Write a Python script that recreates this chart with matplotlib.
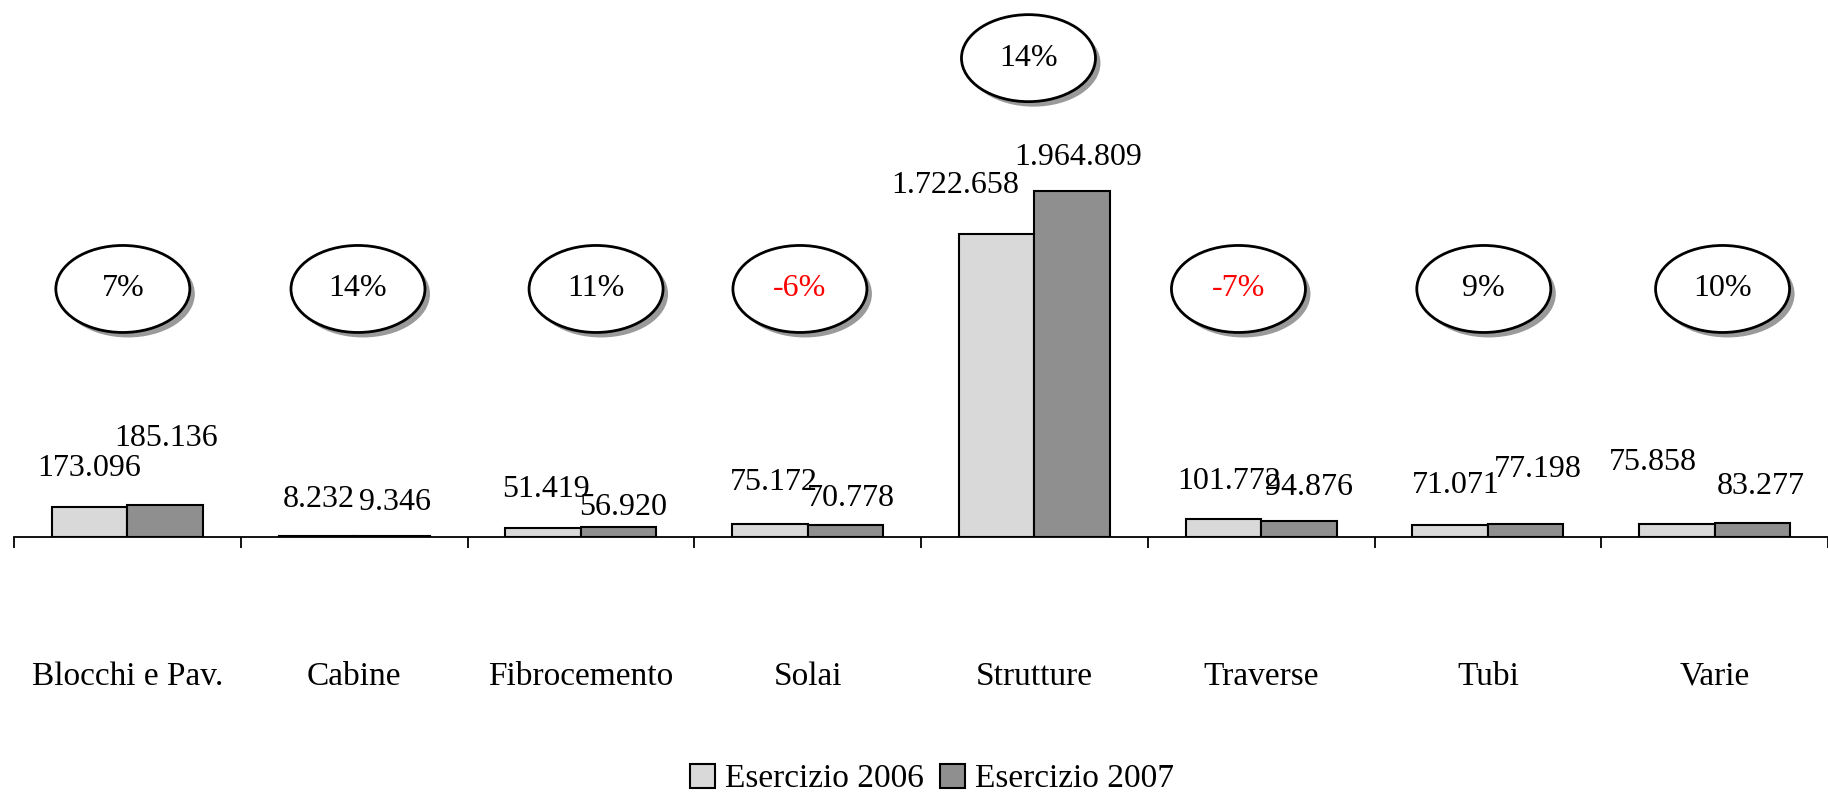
import matplotlib
matplotlib.use("Agg")
import matplotlib.pyplot as plt
from matplotlib.patches import Ellipse
from matplotlib.transforms import ScaledTranslation

plt.rcParams['font.family'] = ['Liberation Serif', 'DejaVu Serif']

categories = ['Blocchi e Pav.', 'Cabine', 'Fibrocemento', 'Solai',
              'Strutture', 'Traverse', 'Tubi', 'Varie']
es_2006 = [173096, 8232, 51419, 75172, 1722658, 101772, 71071, 75858]
es_2007 = [185136, 9346, 56920, 70778, 1964809, 94876, 77198, 83277]
growth = [7, 14, 11, -6, 14, -7, 9, 10]

# label offsets (points) from bar top, as in the original sheet
off_2006 = [(0, 28), (2, 26), (2, 28), (3, 30), (-30, 35), (4, 27), (4, 28), (-17, 44)]
off_2007 = [(1, 48), (2, 24), (3, 14), (4, 19), (4, 24), (7, 24), (9, 39), (6, 26)]
# ellipse placement: x shift (category units), centre height (data units)
ell_dx = [-0.02, 0.017, 0.067, -0.034, -0.026, -0.10, -0.018, 0.035]
ell_y = [1.41e6, 1.41e6, 1.41e6, 1.41e6, 2.72e6, 1.41e6, 1.41e6, 1.41e6]

c06 = '#d9d9d9'
c07 = '#8f8f8f'

W, H = 1828, 794
base = 537.4
fig = plt.figure(figsize=(W / 100, H / 100), dpi=100)
ax = fig.add_axes([14 / W, 1 - base / H, 1 - 14 / W, base / H])

x = list(range(len(categories)))
bw = 1 / 3
b1 = ax.bar([i - bw / 2 for i in x], es_2006, bw, color=c06, edgecolor='black',
            linewidth=1.5, label='Esercizio 2006', zorder=2)
b2 = ax.bar([i + bw / 2 for i in x], es_2007, bw, color=c07, edgecolor='black',
            linewidth=1.5, label='Esercizio 2007', zorder=2)

ymax = 3.05e6
ax.set_xlim(-0.5, len(categories) - 0.5)
ax.set_ylim(0, ymax)

fmt = lambda v: f"{v:,}".replace(",", ".")
for i in x:
    ax.annotate(fmt(es_2006[i]), (i - bw / 2, es_2006[i]), xytext=off_2006[i],
                textcoords='offset points', ha='center', va='center', fontsize=23)
    ax.annotate(fmt(es_2007[i]), (i + bw / 2, es_2007[i]), xytext=off_2007[i],
                textcoords='offset points', ha='center', va='center', fontsize=23)

# ellipse callouts with a drop shadow
ew = 134 / ((W - 14) / 8)
eh = 87 / base * ymax
shadow_tr = ax.transData + ScaledTranslation(5 / 100, -5 / 100, fig.dpi_scale_trans)
for i in x:
    cx, cy = i + ell_dx[i], ell_y[i]
    ax.add_patch(Ellipse((cx, cy), ew, eh, transform=shadow_tr, facecolor='#9a9a9a',
                         edgecolor='none', zorder=3, clip_on=False))
    ax.add_patch(Ellipse((cx, cy), ew, eh, facecolor='white', edgecolor='black',
                         linewidth=2, zorder=4, clip_on=False))
    ax.text(cx, cy, f"{growth[i]}%", ha='center', va='center', fontsize=23,
            color='red' if growth[i] < 0 else 'black', zorder=5)

for s in ['top', 'right', 'left']:
    ax.spines[s].set_visible(False)
ax.spines['bottom'].set_linewidth(1.3)
ax.set_yticks([])

ax.set_xticks([i - 0.5 for i in range(len(categories) + 1)])
ax.set_xticklabels([])
ax.tick_params(axis='x', which='major', direction='out', length=8, width=1.3)
ax.set_xticks(x, minor=True)
ax.set_xticklabels(categories, minor=True, fontsize=24)
ax.tick_params(axis='x', which='minor', length=0, pad=89)

fig.legend(handles=[b1, b2], loc='center', bbox_to_anchor=(932 / W, 1 - 779 / H),
           ncol=2, frameon=False, fontsize=24, handlelength=0.75, handleheight=0.75,
           handletextpad=0.3, columnspacing=0.5, borderpad=0)

plt.savefig("out.png", dpi=100)
